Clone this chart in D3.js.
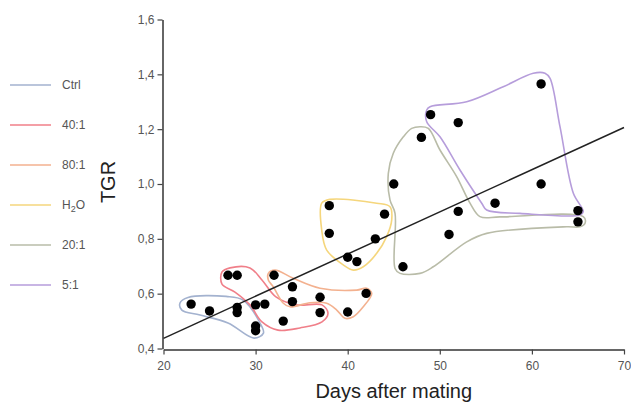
<!DOCTYPE html>
<html><head><meta charset="utf-8">
<script src="https://cdn.jsdelivr.net/npm/d3@7"></script>
<style>body{margin:0;background:#fff}svg{display:block}</style>
</head><body><svg id="c" width="631" height="403"></svg>
<script>
// ---- data ----
const groups = ["Ctrl", "40:1", "80:1", "H2O", "20:1", "5:1"];
const groupColors = ["#a3b2cf", "#f07f89", "#f3b18f", "#f5d67c", "#b9bca8", "#b69ddb"];
const xTicks = [20, 30, 40, 50, 60, 70];
const yTicks = [0.4, 0.6, 0.8, 1.0, 1.2, 1.4, 1.6];

const ctrlX = [23, 25, 28, 28, 30, 30];
const ctrlY = [0.562, 0.537, 0.550, 0.531, 0.465, 0.482];
const r40X = [27, 28, 30, 31, 33, 37];
const r40Y = [0.667, 0.667, 0.559, 0.562, 0.500, 0.531];
const r80X = [32, 34, 34, 37, 40, 42];
const r80Y = [0.667, 0.625, 0.571, 0.587, 0.533, 0.601];
const h2oX = [38, 38, 40, 41, 43, 44];
const h2oY = [0.921, 0.820, 0.733, 0.717, 0.800, 0.890];
const r20X = [45, 46, 48, 51, 52, 65];
const r20Y = [1.000, 0.698, 1.170, 0.816, 0.900, 0.862];
const r5X = [49, 52, 56, 61, 61, 65];
const r5Y = [1.253, 1.224, 0.930, 1.365, 1.000, 0.903];

const fitX = [20, 70];
const fitY = [0.437, 1.206];

// hand-drawn group outlines (data units)
const outlineCtrl = [[21.79,0.566],[22.66,0.586],[26.79,0.590],[28.63,0.577],[30.48,0.493],[30.85,0.456],[29.83,0.438],[27.0,0.493],[23.96,0.522],[21.99,0.540]];
const outline40 = [[26.35,0.679],[27.22,0.694],[29.39,0.694],[30.69,0.650],[32.21,0.588],[34.39,0.559],[37.21,0.559],[37.86,0.529],[37.21,0.497],[34.82,0.475],[32.43,0.467],[30.69,0.497],[29.39,0.559],[27.76,0.606],[26.35,0.635]];
const outline80 = [[31.38,0.674],[32.11,0.686],[34.09,0.656],[36.99,0.620],[40.98,0.613],[42.06,0.620],[42.61,0.601],[41.69,0.552],[40.61,0.516],[39.71,0.510],[38.81,0.540],[37.72,0.565],[35.91,0.567],[33.74,0.552],[33.01,0.565],[31.92,0.625],[31.38,0.650]];
const outlineH2O = [[37.18,0.930],[38.08,0.944],[43.15,0.930],[44.59,0.917],[44.78,0.869],[44.23,0.808],[43.15,0.747],[41.69,0.698],[40.61,0.686],[39.52,0.705],[37.72,0.759],[37.18,0.832]];
const outline20 = [[47.85,1.209],[48.75,1.203],[50.02,1.124],[51.83,1.027],[53.28,0.930],[54.36,0.881],[56.54,0.880],[65.58,0.881],[65.77,0.857],[65.22,0.844],[63.78,0.844],[55.09,0.820],[52.92,0.789],[49.29,0.698],[47.85,0.674],[45.68,0.674],[45.14,0.692],[45.14,0.893],[44.59,0.942],[44.41,1.039],[44.95,1.112],[46.04,1.172],[46.95,1.203]];
const outline5 = [[48.58,1.270],[48.94,1.282],[52.92,1.300],[56.89,1.355],[60.15,1.404],[61.42,1.404],[61.97,1.385],[63.05,1.209],[64.50,0.966],[65.58,0.899],[65.22,0.887],[58.71,0.893],[55.09,0.905],[54.55,0.930],[52.19,1.051],[50.02,1.172],[48.58,1.227]];

const seriesX = [ctrlX, r40X, r80X, h2oX, r20X, r5X];
const seriesY = [ctrlY, r40Y, r80Y, h2oY, r20Y, r5Y];
const outlines = [outlineCtrl, outline40, outline80, outlineH2O, outline20, outline5];

// ---- chart ----
const svg = d3.select("#c");
const font = "'Liberation Sans', Arial, sans-serif";
const x = d3.scaleLinear().domain([20, 70]).range([163.5, 624]);
const y = d3.scaleLinear().domain([0.4, 1.6]).range([348.5, 19.5]);
const fmt = d => d3.format(".1f")(d).replace(".", ",");

// outlines
const line = d3.line().x(d => x(d[0])).y(d => y(d[1])).curve(d3.curveCatmullRomClosed.alpha(0.5));
svg.append("g").selectAll("path").data(outlines).join("path")
  .attr("d", d => line(d)).attr("fill", "none")
  .attr("stroke", (d, i) => groupColors[i]).attr("stroke-width", 1.6);

// axes
const yAxis = svg.append("g").attr("transform", `translate(${x(20) - 1},0)`)
  .call(d3.axisLeft(y).tickValues(yTicks).tickFormat(fmt).tickSize(5).tickSizeOuter(0));
const xAxis = svg.append("g").attr("transform", `translate(0,${y(0.4) + 1})`)
  .call(d3.axisBottom(x).tickValues(xTicks).tickFormat(d => d).tickSize(5).tickSizeOuter(0));
[yAxis, xAxis].forEach(a => {
  a.select(".domain").attr("stroke", "#333").attr("stroke-width", 1.5);
  a.selectAll(".tick line").attr("stroke", "#444").attr("stroke-width", 1.2);
  a.selectAll(".tick text").attr("fill", "#555").style("font-family", font).style("font-size", "12px");
});
xAxis.selectAll(".tick text").attr("dy", "1.05em");

// fit line
svg.append("line")
  .attr("x1", x(fitX[0])).attr("y1", y(fitY[0]))
  .attr("x2", x(fitX[1])).attr("y2", y(fitY[1]))
  .attr("stroke", "#222").attr("stroke-width", 1.5);

// points
const pts = [];
seriesX.forEach((xs, i) => xs.forEach((v, j) => pts.push([v, seriesY[i][j]])));
svg.append("g").selectAll("circle").data(pts).join("circle")
  .attr("cx", d => x(d[0])).attr("cy", d => y(d[1])).attr("r", 4.7).attr("fill", "#000");

// axis titles
svg.append("text").attr("x", (x(20) + x(70)) / 2).attr("y", 398).attr("text-anchor", "middle")
  .style("font-family", font).style("font-size", "20px").attr("fill", "#222").text("Days after mating");
svg.append("text").attr("transform", "translate(115,182) rotate(-90)").attr("text-anchor", "middle")
  .style("font-family", font).style("font-size", "20px").attr("fill", "#222").text("TGR");

// legend
const lg = svg.append("g");
groups.forEach((g, i) => {
  const ly = 85 + i * 40;
  lg.append("line").attr("x1", 10).attr("x2", 51).attr("y1", ly).attr("y2", ly)
    .attr("stroke", groupColors[i]).attr("stroke-width", 1.6);
  const t = lg.append("text").attr("x", 62).attr("y", ly + 4)
    .style("font-family", font).style("font-size", "12px").attr("fill", "#555");
  if (g === "H2O") {
    t.append("tspan").text("H");
    t.append("tspan").attr("dy", 3).style("font-size", "9px").text("2");
    t.append("tspan").attr("dy", -3).text("O");
  } else t.text(g);
});
</script></body></html>
